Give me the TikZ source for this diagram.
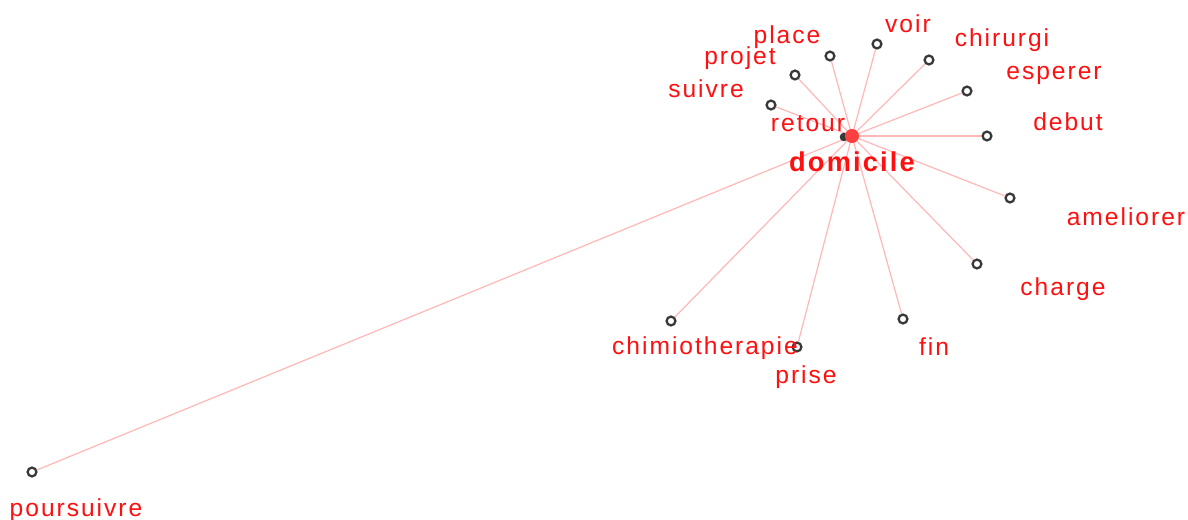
\documentclass[tikz,border=0pt]{standalone}
\usepackage{fontspec}
\setmainfont{Liberation Sans}
\newfontfamily\simfont[LetterSpace=8]{Liberation Sans}
\usepackage{tikz}
\usetikzlibrary{positioning,backgrounds}
\definecolor{simedge}{HTML}{FFB8B8}
\definecolor{simword}{HTML}{FF1010}
\definecolor{simdot}{HTML}{383838}
\tikzset{
  simdotnode/.style={circle,draw=simdot,line width=1.3pt,fill=white,inner sep=0pt,minimum size=5pt},
  simhub/.style={circle,fill=red!75,inner sep=0pt,minimum size=8pt},
  simlabel/.style={text=simword,font=\simfont\fontsize{14}{15}\selectfont,inner sep=0pt},
  simedgeline/.style={draw=simedge,line width=0.7pt}
}

\begin{document}
\begin{tikzpicture}[x=0.02cm,y=-0.02cm]
\useasboundingbox (0,0) rectangle (1188,520);
% hub
\node[simdotnode,fill=simdot,minimum size=3.5pt] (retour) at (844,137) {};
\node[simhub] (domicile) at (852,136) {};
\node[simlabel,font=\simfont\fontsize{15.5}{17}\selectfont\bfseries] (domicilelbl) at (852,162) {domicile};
% words
\node[simdotnode] (voir) at (877,44) {};
\node[simdotnode] (place) at (830,56) {};
\node[simdotnode] (projet) at (795,75) {};
\node[simdotnode] (suivre) at (771,105) {};
\node[simdotnode] (chirurgi) at (929,60) {};
\node[simdotnode] (esperer) at (967,91) {};
\node[simdotnode] (debut) at (987,136) {};
\node[simdotnode] (ameliorer) at (1010,198) {};
\node[simdotnode] (charge) at (977,264) {};
\node[simdotnode] (fin) at (903,319) {};
\node[simdotnode] (prise) at (797,347) {};
\node[simdotnode] (chimiotherapie) at (671,321) {};
\node[simdotnode] (poursuivre) at (32,472) {};
\begin{scope}[on background layer]
\foreach \n in {voir,place,projet,suivre,chirurgi,esperer,debut,ameliorer,charge,fin,prise,chimiotherapie,poursuivre}{\draw[simedgeline] (domicile.center) -- (\n);}
\draw[simedgeline] (domicile) -- (retour);
\end{scope}
% labels
\node[simlabel] (retourlbl) at (808,124) {retour};
\node[simlabel] (voirlbl) at (908,24) {voir};
\node[simlabel] (placelbl) at (787,37) {place};
\node[simlabel] (projetlbl) at (740,58) {projet};
\node[simlabel] (suivrelbl) at (706,89) {suivre};
\node[simlabel] (chirurgilbl) at (1002,40) {chirurgi};
\node[simlabel] (espererlbl) at (1054,75) {esperer};
\node[simlabel] (debutlbl) at (1068,122) {debut};
\node[simlabel] (ameliorerlbl) at (1126,217) {ameliorer};
\node[simlabel] (chargelbl) at (1063,289) {charge};
\node[simlabel] (finlbl) at (934,347) {fin};
\node[simlabel] (chimiotherapielbl) at (705,348) {chimiotherapie};
\node[simlabel] (priselbl) at (806,377) {prise};
\node[simlabel] (poursuivrelbl) at (76,510) {poursuivre};
\end{tikzpicture}
\end{document}
